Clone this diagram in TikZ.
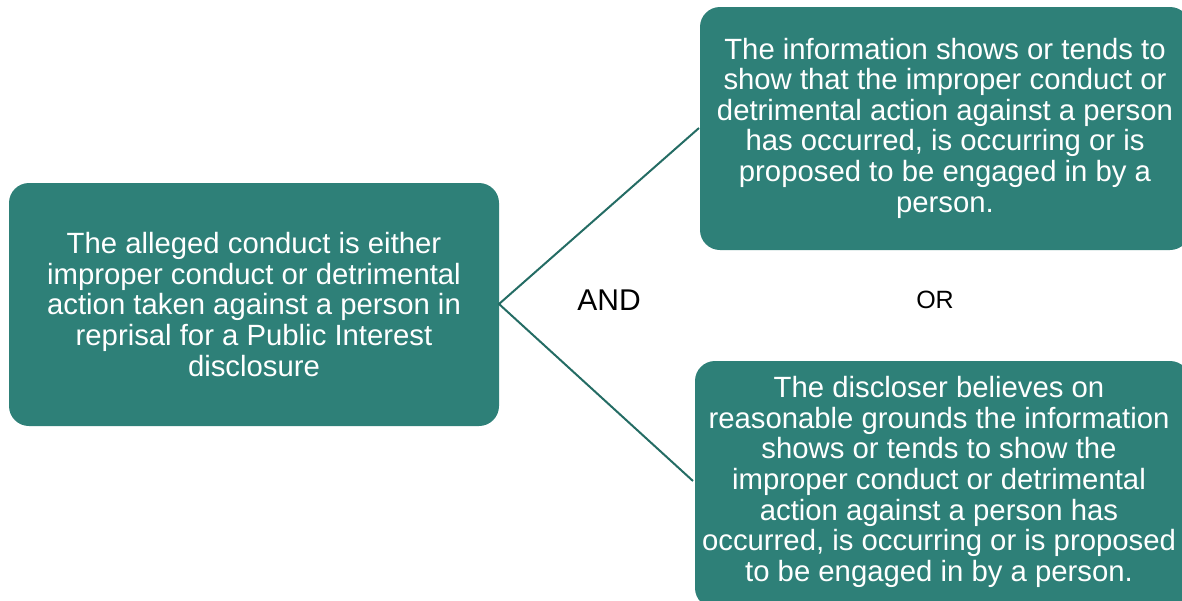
\documentclass[tikz,border=0pt]{standalone}
\usepackage{fontspec}
\setmainfont{Liberation Sans}
\begin{document}
\begin{tikzpicture}[x=1pt,y=-1pt,
  box/.style={fill=boxteal, rounded corners=20pt, text=white, align=center,
    font=\fontsize{29.3}{30.6}\selectfont, inner sep=0pt},
  link/.style={draw=linkteal, line width=2pt},
  word/.style={text=black, inner sep=0pt}]
\definecolor{boxteal}{RGB}{46,128,120}
\definecolor{linkteal}{RGB}{36,108,100}
\useasboundingbox (0,0) rectangle (1182,600);
\clip (0,0) rectangle (1182,600);

% the three statement boxes
\path[box] (9,183) rectangle (499,426);
\node[box, fill=none] (cond) at (254,304.5) {The alleged conduct is either\\improper conduct or detrimental\\action taken against a person in\\reprisal for a Public Interest\\disclosure};
\coordinate (condE) at (499,304);

\path[box] (700,7) rectangle (1190,250);
\node[box, fill=none] (info) at (945,128) {The information shows or tends to\\show that the improper conduct or\\detrimental action against a person\\has occurred, is occurring or is\\proposed to be engaged in by a\\person.};
\coordinate (infoW) at (699,128);

\path[box] (695,361) rectangle (1190,608);
\node[box, fill=none] (belief) at (939,482) {The discloser believes on\\reasonable grounds the information\\shows or tends to show the\\improper conduct or detrimental\\action against a person has\\occurred, is occurring or is proposed\\to be engaged in by a person.};
\coordinate (beliefW) at (693,481);

% connectors
\draw[link] (infoW) -- (condE) -- (beliefW);

% connective words
\node[word, font=\fontsize{30}{34}\selectfont] (and) at (609,300) {AND};
\node[word, font=\fontsize{25}{29}\selectfont] (or) at (935,300) {OR};
\end{tikzpicture}
\end{document}
